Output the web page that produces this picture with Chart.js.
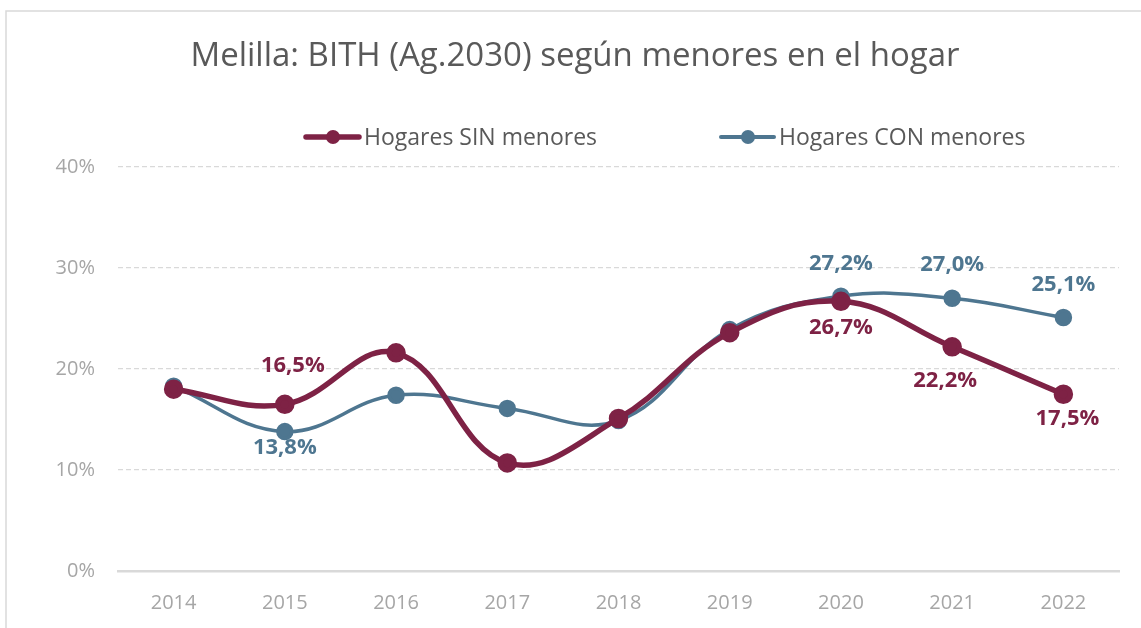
<!DOCTYPE html>
<html>
<head>
<meta charset="utf-8">
<script src="https://cdn.jsdelivr.net/npm/chart.js@4.4.1/dist/chart.umd.min.js"></script>
<style>
  html, body { margin: 0; padding: 0; background: #fff; }
  #wrap { position: relative; width: 1141px; height: 628px; }
</style>
</head>
<body>
<div id="wrap"><canvas id="chart"></canvas></div>
<script>
const years = ["2014", "2015", "2016", "2017", "2018", "2019", "2020", "2021", "2022"];
const sinMenores = [18.0, 16.5, 21.6, 10.7, 15.1, 23.6, 26.7, 22.2, 17.5];
const conMenores = [18.3, 13.8, 17.4, 16.1, 14.9, 23.9, 27.2, 27.0, 25.1];
const yTicks = [0, 10, 20, 30, 40];
const chartTitle = "Melilla: BITH (Ag.2030) según menores en el hogar";

const SIN_COLOR = "#7E2245";
const CON_COLOR = "#4E7690";
const TEXT_GRAY = "#595959";
const TICK_GRAY = "#A6A6A6";
const GRID_GRAY = "#D9D9D9";

// which points get a value label, and where (dy relative to point, + = down)
const labelSpots = {
  0: { 1: { dx: 8, dy: -39 }, 6: { dx: 0, dy: 26 }, 7: { dx: -7, dy: 34 }, 8: { dx: 4, dy: 24 } },
  1: { 1: { dx: 0, dy: 16 }, 6: { dx: 0, dy: -33 }, 7: { dx: 0, dy: -34 }, 8: { dx: 0, dy: -33 } }
};

const fmt = v => v.toFixed(1).replace(".", ",") + "%";

const extras = {
  id: "extras",
  beforeDraw(chart) {
    const ctx = chart.ctx;
    ctx.save();
    ctx.strokeStyle = GRID_GRAY;
    ctx.lineWidth = 1.5;
    ctx.strokeRect(6, 11, chart.width + 20, chart.height + 20);

    ctx.fillStyle = TEXT_GRAY;
    ctx.font = "33px 'Open Sans', sans-serif";
    ctx.textAlign = "center";
    ctx.textBaseline = "middle";
    ctx.fillText(chartTitle, 575, 57);
    ctx.restore();
  },
  afterDatasetsDraw(chart) {
    const ctx = chart.ctx;
    ctx.save();
    ctx.font = "bold 22px 'Open Sans', sans-serif";
    ctx.textAlign = "center";
    ctx.textBaseline = "middle";
    chart.data.datasets.forEach((ds, di) => {
      const meta = chart.getDatasetMeta(di);
      const spots = labelSpots[di] || {};
      Object.keys(spots).forEach(k => {
        const pt = meta.data[k];
        const s = spots[k];
        ctx.fillStyle = ds.borderColor;
        ctx.fillText(fmt(ds.data[k]), pt.x + s.dx, pt.y + s.dy);
      });
    });

    // legend: line with dot, then text
    const items = [{ x: 306, ds: 0 }, { x: 721, ds: 1 }];
    const ly = 137;
    ctx.font = "23px 'Open Sans', sans-serif";
    ctx.textAlign = "left";
    items.forEach(it => {
      const ds = chart.data.datasets[it.ds];
      ctx.strokeStyle = ds.borderColor;
      ctx.fillStyle = ds.borderColor;
      ctx.lineWidth = it.ds === 0 ? 5.5 : 4;
      ctx.lineCap = "round";
      ctx.beginPath();
      ctx.moveTo(it.x, ly);
      ctx.lineTo(it.x + 53, ly);
      ctx.stroke();
      ctx.beginPath();
      ctx.arc(it.x + 27, ly, 7, 0, Math.PI * 2);
      ctx.fill();
      ctx.fillStyle = TEXT_GRAY;
      ctx.fillText(ds.label, it.x + 58, ly + 1);
    });
    ctx.restore();
  }
};

new Chart(document.getElementById("chart"), {
  type: "line",
  data: {
    labels: years,
    datasets: [
      {
        label: "Hogares SIN menores",
        data: sinMenores,
        borderColor: SIN_COLOR,
        backgroundColor: SIN_COLOR,
        borderWidth: 5.5,
        pointRadius: 7,
        pointHoverRadius: 7,
        tension: 0.4
      },
      {
        label: "Hogares CON menores",
        data: conMenores,
        borderColor: CON_COLOR,
        backgroundColor: CON_COLOR,
        borderWidth: 3.5,
        pointRadius: 7,
        pointHoverRadius: 7,
        tension: 0.4
      }
    ]
  },
  options: {
    responsive: true,
    maintainAspectRatio: false,
    animation: false,
    layout: { padding: { left: 0, right: 22, top: 167, bottom: 0 } },
    plugins: {
      legend: { display: false },
      tooltip: { enabled: false },
      title: { display: false }
    },
    scales: {
      x: {
        offset: true,
        grid: { display: false },
        border: { display: true, color: GRID_GRAY, width: 2.5 },
        ticks: {
          color: TICK_GRAY,
          padding: 12,
          font: { family: "'Open Sans', sans-serif", size: 20 }
        },
        afterFit: s => { s.height = 57; }
      },
      y: {
        min: 0,
        max: 40,
        afterBuildTicks: s => { s.ticks = yTicks.map(v => ({ value: v })); },
        grid: {
          color: c => c.tick.value === 0 ? "rgba(0,0,0,0)" : GRID_GRAY,
          lineWidth: 1.3,
          drawTicks: false
        },
        border: { display: false, dash: [5, 3] },
        ticks: {
          color: TICK_GRAY,
          padding: 23,
          font: { family: "'Open Sans', sans-serif", size: 20 },
          callback: v => v + "%"
        },
        afterFit: s => { s.width = 118; }
      }
    }
  },
  plugins: [extras]
});
</script>
</body>
</html>
